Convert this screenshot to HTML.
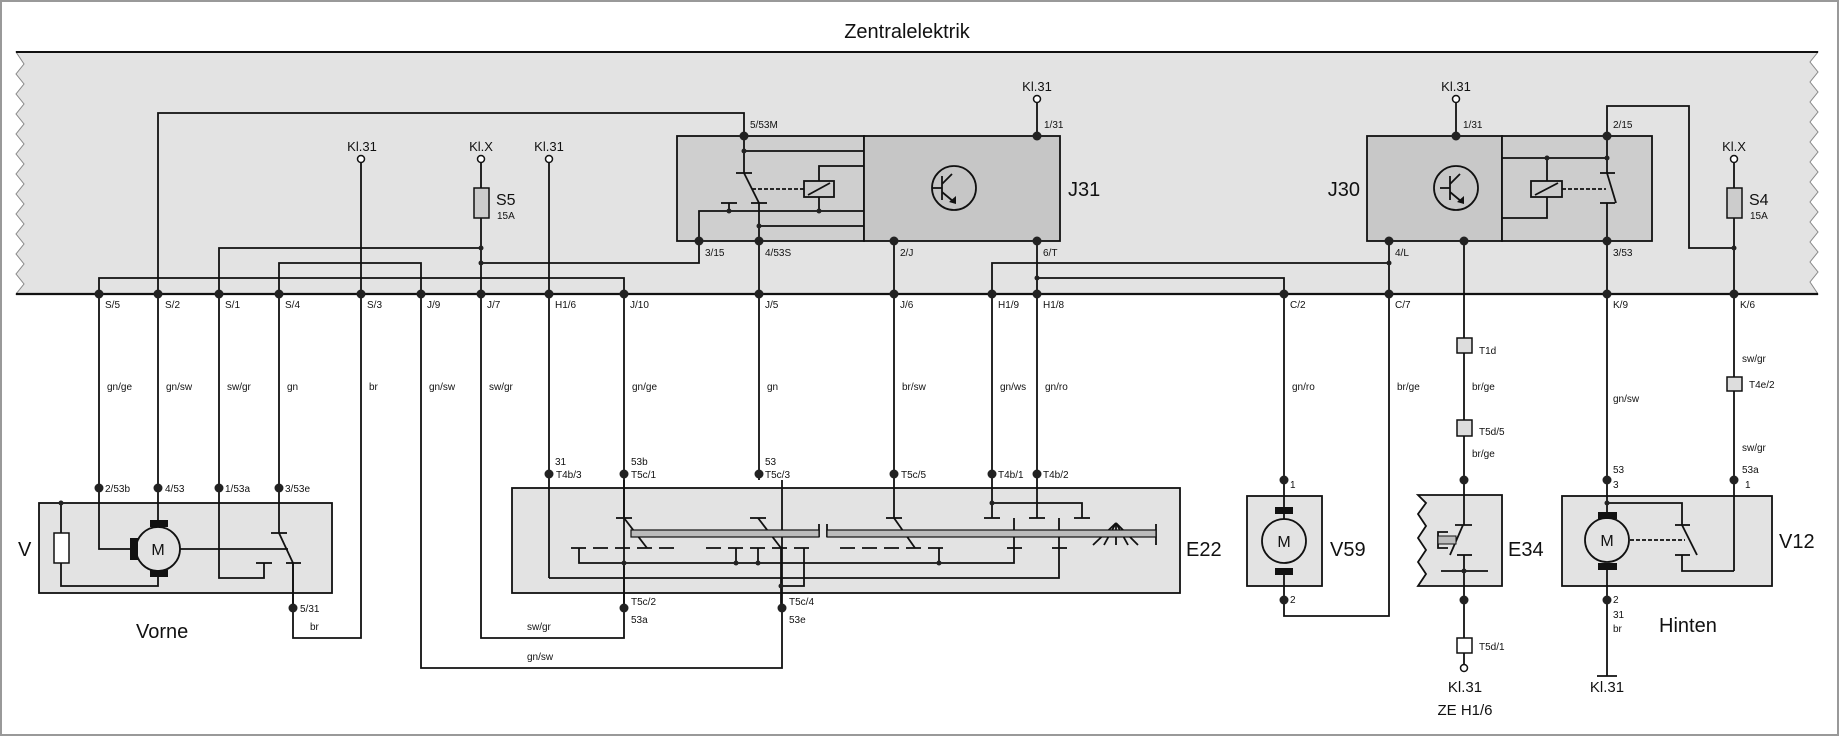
<!DOCTYPE html>
<html><head><meta charset="utf-8"><style>
html,body{margin:0;padding:0;background:#fff}
svg{display:block}
text{font-family:"Liberation Sans",sans-serif;fill:#111}
.w{stroke:#111;stroke-width:1.8;fill:none}
.s{font-size:10px}
.m{font-size:13px}
.b{font-size:20px}
</style></head><body>
<svg width="1840" height="737" viewBox="0 0 1840 737" xmlns="http://www.w3.org/2000/svg">
<rect x="1" y="1" width="1837" height="734" fill="#fff" stroke="#999" stroke-width="2"/>
<text x="907" y="38" class="b" text-anchor="middle">Zentralelektrik</text>
<!-- main gray area -->
<path d="M16,52 L1818,52 L1810,62 L1818,72 L1810,82 L1818,92 L1810,102 L1818,112 L1810,122 L1818,132 L1810,142 L1818,152 L1810,162 L1818,172 L1810,182 L1818,192 L1810,202 L1818,212 L1810,222 L1818,232 L1810,242 L1818,252 L1810,262 L1818,272 L1810,282 L1818,294 L16,294 L24,284 L16,274 L24,264 L16,254 L24,244 L16,234 L24,224 L16,214 L24,204 L16,194 L24,184 L16,174 L24,164 L16,154 L24,144 L16,134 L24,124 L16,114 L24,104 L16,94 L24,84 L16,74 L24,64 Z" fill="#e3e3e3" stroke="#888" stroke-width="1"/>
<line x1="16" y1="52" x2="1818" y2="52" stroke="#111" stroke-width="2"/>
<line x1="16" y1="294" x2="1818" y2="294" stroke="#111" stroke-width="2.2"/>
<!-- J31 -->
<rect x="677" y="136" width="187" height="105" fill="#cfcfcf" stroke="#111" stroke-width="1.8"/>
<rect x="864" y="136" width="196" height="105" fill="#c6c6c6" stroke="#111" stroke-width="1.8"/>
<!-- J30 -->
<rect x="1367" y="136" width="135" height="105" fill="#c8c8c8" stroke="#111" stroke-width="1.8"/>
<rect x="1502" y="136" width="150" height="105" fill="#cdcdcd" stroke="#111" stroke-width="1.8"/>
<g class="w">
<!-- top loops -->
<polyline points="158,294 158,113 744,113 744,136"/>
<polyline points="744,136 744,173"/>
<line x1="736" y1="173" x2="752" y2="173"/>
<line x1="744" y1="173" x2="759" y2="203"/>
<line x1="751" y1="203" x2="767" y2="203"/>
<line x1="744" y1="151" x2="864" y2="151"/>
<line x1="721" y1="203" x2="737" y2="203"/>
<line x1="729" y1="203" x2="729" y2="211"/>
<polyline points="699,241 699,211 864,211"/>
<rect x="804" y="181" width="30" height="16" fill="#ccc"/>
<line x1="808" y1="195" x2="830" y2="183"/>
<polyline points="819,211 819,197"/>
<polyline points="819,181 819,166 864,166"/>
<line x1="752" y1="189" x2="804" y2="189" stroke-dasharray="4,2"/>
<polyline points="759,203 759,294 759,480"/>
<line x1="759" y1="226" x2="864" y2="226"/>
<polyline points="699,241 699,263 481,263"/>
<polyline points="481,159 481,294"/>
<polyline points="219,294 219,248 481,248"/>
<polyline points="279,294 279,263 421,263 421,294"/>
<polyline points="99,294 99,278 624,278 624,294"/>
<line x1="361" y1="159" x2="361" y2="294"/>
<line x1="549" y1="159" x2="549" y2="294"/>
<line x1="1037" y1="99" x2="1037" y2="136"/>
<line x1="1037" y1="241" x2="1037" y2="294"/>
<polyline points="1037,278 1284,278 1284,294"/>
<polyline points="992,294 992,263 1389,263"/>
<line x1="1389" y1="241" x2="1389" y2="294"/>
<line x1="894" y1="241" x2="894" y2="294"/>
<line x1="1456" y1="99" x2="1456" y2="136"/>
<line x1="1464" y1="241" x2="1464" y2="338"/>
<polyline points="1607,136 1607,106 1689,106 1689,248 1734,248"/>
<line x1="1734" y1="159" x2="1734" y2="377"/>
<line x1="1607" y1="136" x2="1607" y2="173"/>
<line x1="1600" y1="173" x2="1615" y2="173"/>
<line x1="1607" y1="173" x2="1616" y2="203"/>
<line x1="1600" y1="203" x2="1615" y2="203"/>
<line x1="1607" y1="203" x2="1607" y2="294"/>
<line x1="1502" y1="158" x2="1607" y2="158"/>
<rect x="1531" y="181" width="31" height="16" fill="#ccc"/>
<line x1="1535" y1="195" x2="1558" y2="183"/>
<line x1="1547" y1="158" x2="1547" y2="181"/>
<polyline points="1547,197 1547,218 1502,218"/>
<line x1="1562" y1="189" x2="1606" y2="189" stroke-dasharray="4,2"/>
<!-- transistors -->
<circle cx="954" cy="188" r="22"/>
<line x1="942" y1="176" x2="942" y2="200"/>
<line x1="932" y1="188" x2="942" y2="188"/>
<line x1="942" y1="184" x2="952" y2="174"/>
<line x1="942" y1="192" x2="954" y2="202"/>
<circle cx="1456" cy="188" r="22"/>
<line x1="1450" y1="176" x2="1450" y2="200"/>
<line x1="1440" y1="188" x2="1450" y2="188"/>
<line x1="1450" y1="184" x2="1460" y2="174"/>
<line x1="1450" y1="192" x2="1462" y2="202"/>
</g>
<path d="M949,202 L956,196 L956,204Z M1457,202 L1464,196 L1464,204Z" fill="#111"/>
<!-- Kl circles -->
<g fill="#fff" stroke="#111" stroke-width="1.5">
<circle cx="361" cy="159" r="3.5"/><circle cx="481" cy="159" r="3.5"/><circle cx="549" cy="159" r="3.5"/>
<circle cx="1037" cy="99" r="3.5"/><circle cx="1456" cy="99" r="3.5"/><circle cx="1734" cy="159" r="3.5"/>
<circle cx="1464" cy="668" r="3.5"/>
</g>
<!-- fuses -->
<rect x="474" y="188" width="15" height="30" fill="#ccc" stroke="#111" stroke-width="1.5"/>
<rect x="1727" y="188" width="15" height="30" fill="#ccc" stroke="#111" stroke-width="1.5"/>
<text x="496" y="205" style="font-size:16px">S5</text><text x="497" y="219" class="s">15A</text>
<text x="1749" y="205" style="font-size:16px">S4</text><text x="1750" y="219" class="s">15A</text>
<g class="m" text-anchor="middle">
<text x="362" y="151">Kl.31</text><text x="481" y="151">Kl.X</text><text x="549" y="151">Kl.31</text>
<text x="1037" y="91">Kl.31</text><text x="1456" y="91">Kl.31</text><text x="1734" y="151">Kl.X</text>
</g>
<text x="1068" y="196" class="b">J31</text>
<text x="1360" y="196" class="b" text-anchor="end">J30</text>
<g class="s">
<text x="750" y="128">5/53M</text><text x="1044" y="128">1/31</text><text x="1463" y="128">1/31</text><text x="1613" y="128">2/15</text>
<text x="705" y="256">3/15</text><text x="765" y="256">4/53S</text><text x="900" y="256">2/J</text><text x="1043" y="256">6/T</text>
<text x="1395" y="256">4/L</text><text x="1613" y="256">3/53</text>
<text x="105" y="308">S/5</text><text x="165" y="308">S/2</text><text x="225" y="308">S/1</text><text x="285" y="308">S/4</text>
<text x="367" y="308">S/3</text><text x="427" y="308">J/9</text><text x="487" y="308">J/7</text><text x="555" y="308">H1/6</text>
<text x="630" y="308">J/10</text><text x="765" y="308">J/5</text><text x="900" y="308">J/6</text><text x="998" y="308">H1/9</text>
<text x="1043" y="308">H1/8</text><text x="1290" y="308">C/2</text><text x="1395" y="308">C/7</text><text x="1613" y="308">K/9</text><text x="1740" y="308">K/6</text>
<text x="107" y="390">gn/ge</text><text x="166" y="390">gn/sw</text><text x="227" y="390">sw/gr</text><text x="287" y="390">gn</text>
<text x="369" y="390">br</text><text x="429" y="390">gn/sw</text><text x="489" y="390">sw/gr</text><text x="632" y="390">gn/ge</text>
<text x="767" y="390">gn</text><text x="902" y="390">br/sw</text><text x="1000" y="390">gn/ws</text><text x="1045" y="390">gn/ro</text>
<text x="1292" y="390">gn/ro</text><text x="1397" y="390">br/ge</text><text x="1472" y="390">br/ge</text>
<text x="1479" y="354">T1d</text><text x="1479" y="435">T5d/5</text><text x="1472" y="457">br/ge</text>
<text x="1472" y="582">br/ws</text><text x="1479" y="650">T5d/1</text>
<text x="1742" y="362">sw/gr</text><text x="1749" y="388">T4e/2</text><text x="1742" y="451">sw/gr</text><text x="1742" y="473">53a</text><text x="1745" y="488">1</text>
<text x="1613" y="402">gn/sw</text><text x="1613" y="473">53</text><text x="1613" y="488">3</text>
<text x="1613" y="603">2</text><text x="1613" y="618">31</text><text x="1613" y="632">br</text>
<text x="1290" y="488">1</text><text x="1290" y="603">2</text>
<text x="105" y="492">2/53b</text><text x="165" y="492">4/53</text><text x="225" y="492">1/53a</text><text x="285" y="492">3/53e</text>
<text x="300" y="612">5/31</text><text x="310" y="630">br</text>
<text x="555" y="465">31</text><text x="556" y="478">T4b/3</text><text x="631" y="465">53b</text><text x="631" y="478">T5c/1</text>
<text x="765" y="465">53</text><text x="765" y="478">T5c/3</text><text x="901" y="478">T5c/5</text>
<text x="998" y="478">T4b/1</text><text x="1043" y="478">T4b/2</text>
<text x="631" y="605">T5c/2</text><text x="631" y="623">53a</text><text x="789" y="605">T5c/4</text><text x="789" y="623">53e</text>
<text x="527" y="630">sw/gr</text><text x="527" y="660">gn/sw</text>
<text x="1093" y="559">2 1 T 0 J</text>
</g>
<!-- lower boxes -->
<rect x="39" y="503" width="293" height="90" fill="#e3e3e3" stroke="#111" stroke-width="1.8"/>
<rect x="512" y="488" width="668" height="105" fill="#e3e3e3" stroke="#111" stroke-width="1.8"/>
<rect x="1247" y="496" width="75" height="90" fill="#e3e3e3" stroke="#111" stroke-width="1.8"/>
<path d="M1418,495 L1502,495 L1502,586 L1418,586 L1426,574 L1418,562 L1426,550 L1418,538 L1426,526 L1418,514 L1426,503 Z" fill="#e3e3e3" stroke="#111" stroke-width="1.8"/>
<rect x="1562" y="496" width="210" height="90" fill="#e3e3e3" stroke="#111" stroke-width="1.8"/>
<g class="w">
<!-- bottom verticals -->
<line x1="99" y1="294" x2="99" y2="488"/><line x1="158" y1="294" x2="158" y2="521"/>
<line x1="219" y1="294" x2="219" y2="488"/><line x1="279" y1="294" x2="279" y2="533"/>
<polyline points="361,294 361,638 293,638 293,563"/>
<polyline points="421,294 421,668 782,668 782,480"/>
<polyline points="481,294 481,638 624,638 624,480"/>
<line x1="549" y1="294" x2="549" y2="578"/>
<line x1="624" y1="294" x2="624" y2="518"/>
<line x1="894" y1="294" x2="894" y2="518"/>
<line x1="992" y1="294" x2="992" y2="518"/>
<line x1="1037" y1="294" x2="1037" y2="518"/>
<polyline points="1284,294 1284,521"/>
<polyline points="1284,570 1284,616 1389,616 1389,294"/>
<line x1="1464" y1="353" x2="1464" y2="420"/>
<line x1="1464" y1="436" x2="1464" y2="525"/>
<line x1="1464" y1="555" x2="1464" y2="638"/>
<line x1="1464" y1="653" x2="1464" y2="664"/>
<line x1="1607" y1="294" x2="1607" y2="512"/>
<line x1="1607" y1="570" x2="1607" y2="676"/>
<line x1="1597" y1="676" x2="1617" y2="676"/>
<line x1="1734" y1="391" x2="1734" y2="571"/>
<!-- V internals -->
<polyline points="99,488 99,549 130,549"/>
<line x1="180" y1="549" x2="288" y2="549"/>
<polyline points="61,503 61,586 158,586 158,577"/>
<polyline points="219,488 219,578 264,578 264,563"/>
<line x1="256" y1="563" x2="272" y2="563"/>
<line x1="271" y1="533" x2="287" y2="533"/>
<line x1="279" y1="533" x2="293" y2="563"/>
<line x1="286" y1="563" x2="301" y2="563"/>
<line x1="293" y1="563" x2="293" y2="608"/>
<circle cx="158" cy="549" r="22" fill="#e3e3e3"/>
<!-- E22 internals -->
<polyline points="549,578 1059,578 1059,518"/>
<line x1="1052" y1="548" x2="1067" y2="548"/>
<polyline points="1014,518 1014,563 579,563 579,548"/>
<line x1="1007" y1="548" x2="1022" y2="548"/>
<line x1="616" y1="518" x2="632" y2="518"/><line x1="624" y1="518" x2="647" y2="548"/>
<line x1="750" y1="518" x2="766" y2="518"/><line x1="758" y1="518" x2="781" y2="548"/>
<line x1="886" y1="518" x2="902" y2="518"/><line x1="894" y1="518" x2="915" y2="548"/>
<line x1="571" y1="548" x2="680" y2="548" stroke-dasharray="15,7"/>
<line x1="706" y1="548" x2="816" y2="548" stroke-dasharray="15,7"/>
<line x1="840" y1="548" x2="947" y2="548" stroke-dasharray="15,7"/>
<line x1="624" y1="563" x2="624" y2="608"/>
<line x1="736" y1="548" x2="736" y2="563"/><line x1="758" y1="548" x2="758" y2="563"/><line x1="939" y1="548" x2="939" y2="563"/>
<line x1="781" y1="548" x2="781" y2="610"/>
<polyline points="804,548 804,586 781,586"/>
<line x1="984" y1="518" x2="1000" y2="518"/><line x1="1029" y1="518" x2="1045" y2="518"/><line x1="1074" y1="518" x2="1090" y2="518"/>
<polyline points="992,503 1082,503 1082,518"/>
<line x1="819" y1="524" x2="819" y2="537"/><line x1="827" y1="524" x2="827" y2="537"/><line x1="1156" y1="524" x2="1156" y2="545"/>
<line x1="1116" y1="523" x2="1093" y2="545"/><line x1="1116" y1="523" x2="1104" y2="545"/><line x1="1116" y1="523" x2="1116" y2="545"/><line x1="1116" y1="523" x2="1128" y2="545"/><line x1="1116" y1="523" x2="1138" y2="545"/>
<!-- V59 -->
<circle cx="1284" cy="541" r="22" fill="#e3e3e3"/>
<!-- E34 -->
<line x1="1455" y1="525" x2="1472" y2="525"/><line x1="1463" y1="525" x2="1450" y2="555"/>
<line x1="1457" y1="555" x2="1472" y2="555"/><line x1="1441" y1="571" x2="1488" y2="571"/>
<polyline points="1448,532 1438,532 1438,548 1448,548"/>
<!-- V12 -->
<polyline points="1607,503 1682,503 1682,525"/>
<line x1="1675" y1="525" x2="1690" y2="525"/><line x1="1682" y1="525" x2="1697" y2="555"/>
<line x1="1675" y1="555" x2="1690" y2="555"/>
<polyline points="1682,555 1682,571 1734,571"/>
<circle cx="1607" cy="540" r="22" fill="#e3e3e3"/>
<line x1="1630" y1="540" x2="1685" y2="540" stroke-dasharray="4,2"/>
<line x1="1306" y1="541" x2="1306" y2="541"/>
</g>
<rect x="1438" y="536" width="18" height="8" fill="#bbb" stroke="#111" stroke-width="1"/>
<rect x="631" y="530" width="188" height="7" fill="#bbb" stroke="#111" stroke-width="1.2"/>
<rect x="827" y="530" width="329" height="7" fill="#bbb" stroke="#111" stroke-width="1.2"/>
<rect x="54" y="533" width="15" height="30" fill="#fff" stroke="#111" stroke-width="1.5"/>
<!-- brushes -->
<g fill="#111">
<rect x="150" y="520" width="18" height="7"/><rect x="150" y="570" width="18" height="7"/><rect x="130" y="538" width="8" height="22"/>
<rect x="1275" y="507" width="18" height="7"/><rect x="1275" y="568" width="18" height="7"/>
<rect x="1598" y="512" width="19" height="7"/><rect x="1598" y="563" width="19" height="7"/>
</g>
<g style="font-size:16px" text-anchor="middle"><text x="158" y="555">M</text><text x="1284" y="547">M</text><text x="1607" y="546">M</text></g>
<!-- connector boxes -->
<g fill="#ddd" stroke="#111" stroke-width="1.5">
<rect x="1457" y="338" width="15" height="15"/><rect x="1457" y="420" width="15" height="16"/>
<rect x="1457" y="638" width="15" height="15" fill="#fff"/><rect x="1727" y="377" width="15" height="14"/>
</g>
<!-- dots -->
<g fill="#222">
<circle cx="744" cy="136" r="4.5"/><circle cx="1037" cy="136" r="4.5"/><circle cx="1456" cy="136" r="4.5"/><circle cx="1607" cy="136" r="4.5"/>
<circle cx="699" cy="241" r="4.5"/><circle cx="759" cy="241" r="4.5"/><circle cx="894" cy="241" r="4.5"/><circle cx="1037" cy="241" r="4.5"/>
<circle cx="1389" cy="241" r="4.5"/><circle cx="1464" cy="241" r="4.5"/><circle cx="1607" cy="241" r="4.5"/>
<circle cx="99" cy="294" r="4.5"/><circle cx="158" cy="294" r="4.5"/><circle cx="219" cy="294" r="4.5"/><circle cx="279" cy="294" r="4.5"/>
<circle cx="361" cy="294" r="4.5"/><circle cx="421" cy="294" r="4.5"/><circle cx="481" cy="294" r="4.5"/><circle cx="549" cy="294" r="4.5"/>
<circle cx="624" cy="294" r="4.5"/><circle cx="759" cy="294" r="4.5"/><circle cx="894" cy="294" r="4.5"/><circle cx="992" cy="294" r="4.5"/>
<circle cx="1037" cy="294" r="4.5"/><circle cx="1284" cy="294" r="4.5"/><circle cx="1389" cy="294" r="4.5"/><circle cx="1607" cy="294" r="4.5"/><circle cx="1734" cy="294" r="4.5"/>
<circle cx="99" cy="488" r="4.5"/><circle cx="158" cy="488" r="4.5"/><circle cx="219" cy="488" r="4.5"/><circle cx="279" cy="488" r="4.5"/><circle cx="293" cy="608" r="4.5"/>
<circle cx="549" cy="474" r="4.5"/><circle cx="624" cy="474" r="4.5"/><circle cx="759" cy="474" r="4.5"/><circle cx="894" cy="474" r="4.5"/>
<circle cx="992" cy="474" r="4.5"/><circle cx="1037" cy="474" r="4.5"/><circle cx="624" cy="608" r="4.5"/><circle cx="782" cy="608" r="4.5"/>
<circle cx="1284" cy="480" r="4.5"/><circle cx="1284" cy="600" r="4.5"/><circle cx="1464" cy="480" r="4.5"/><circle cx="1464" cy="600" r="4.5"/>
<circle cx="1607" cy="480" r="4.5"/><circle cx="1607" cy="600" r="4.5"/><circle cx="1734" cy="480" r="4.5"/>
<circle cx="744" cy="151" r="2.5"/><circle cx="729" cy="211" r="2.5"/><circle cx="819" cy="211" r="2.5"/><circle cx="759" cy="226" r="2.5"/>
<circle cx="481" cy="248" r="2.5"/><circle cx="481" cy="263" r="2.5"/><circle cx="1037" cy="278" r="2.5"/><circle cx="1389" cy="263" r="2.5"/>
<circle cx="1607" cy="158" r="2.5"/><circle cx="1547" cy="158" r="2.5"/><circle cx="1734" cy="248" r="2.5"/>
<circle cx="61" cy="503" r="2.5"/><circle cx="624" cy="563" r="2.5"/><circle cx="736" cy="563" r="2.5"/><circle cx="758" cy="563" r="2.5"/>
<circle cx="939" cy="563" r="2.5"/><circle cx="781" cy="586" r="2.5"/><circle cx="992" cy="503" r="2.5"/><circle cx="1464" cy="571" r="2.5"/><circle cx="1607" cy="503" r="2.5"/>
</g>
<g class="b">
<text x="18" y="556">V</text><text x="136" y="638">Vorne</text><text x="1186" y="556">E22</text><text x="1330" y="556">V59</text>
<text x="1508" y="556">E34</text><text x="1779" y="548">V12</text><text x="1659" y="632">Hinten</text>
</g>
<g style="font-size:15px" text-anchor="middle"><text x="1465" y="692">Kl.31</text><text x="1465" y="715">ZE H1/6</text><text x="1607" y="692">Kl.31</text></g>
</svg>
</body></html>
